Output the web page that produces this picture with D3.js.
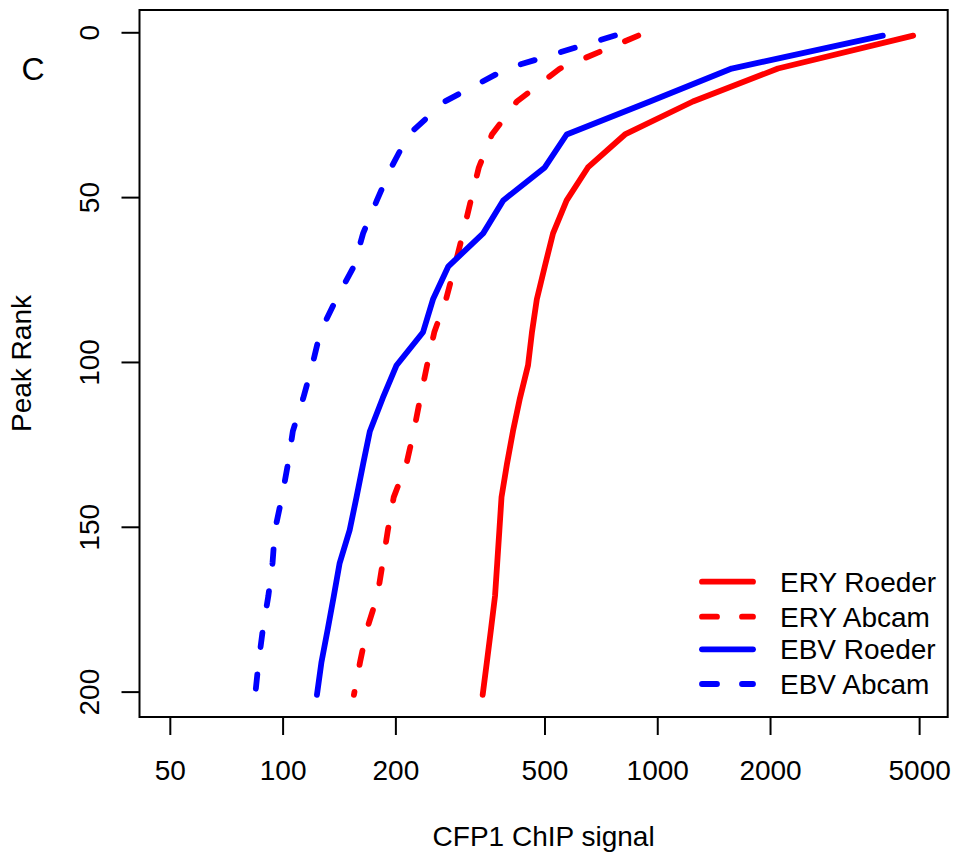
<!DOCTYPE html>
<html>
<head>
<meta charset="utf-8">
<script src="https://cdn.jsdelivr.net/npm/d3@7"></script>
<style>
  body { margin: 0; background: #fff; }
  text { font-family: "Liberation Sans", Arial, sans-serif; fill: #000; }
</style>
</head>
<body>
<div id="chart"></div>
<script>
// peak ranks (every 10th peak)
const ranks = [1, 11, 21, 31, 41, 51, 61, 71, 81, 91, 101, 111, 121, 131, 141, 151, 161, 171, 181, 191, 201];
// CFP1 ChIP signal at each rank
const eryRoeder = [4820, 2100, 1245, 820, 653, 573, 527, 501, 477, 463, 452, 430, 412, 397, 384, 379, 374, 369, 360, 351, 342];
const eryAbcam  = [890, 550, 422, 362, 334, 318, 303, 288, 273, 254, 243, 233, 224, 214, 198, 191, 185, 179, 168, 161, 155];
const ebvRoeder = [4000, 1580, 956, 573, 501, 388, 343, 277, 252, 237, 201.5, 185, 171, 164, 157.5, 151, 142, 137, 132, 127, 123.5];
const ebvAbcam  = [771, 397, 271, 217, 195, 178.5, 164, 155, 139, 126, 120, 113.5, 106.5, 103.3, 99.6, 95.4, 94, 91.6, 88.6, 86.3, 84.5];
const seriesNames = ["ERY Roeder", "ERY Abcam", "EBV Roeder", "EBV Abcam"];
const xTicks = [50, 100, 200, 500, 1000, 2000, 5000];
const yTicks = [0, 50, 100, 150, 200];

const colors = {"ERY Roeder": "#ff0000", "ERY Abcam": "#ff0000", "EBV Roeder": "#0000ff", "EBV Abcam": "#0000ff"};
const dashed = {"ERY Roeder": false, "ERY Abcam": true, "EBV Roeder": false, "EBV Abcam": true};
const seriesValues = [eryRoeder, eryAbcam, ebvRoeder, ebvAbcam];

const width = 953, height = 856;
const plotL = 139.5, plotR = 947.7, plotT = 10, plotB = 717;

const svg = d3.select("#chart").append("svg")
    .attr("width", width)
    .attr("height", height);

const x = d3.scaleLog().domain([41.5, 5960]).range([plotL, plotR]);
const y = d3.scaleLinear().domain([-6.76, 207.7]).range([plotT, plotB]);

// series lines
const line = d3.line()
    .x(d => x(d.v))
    .y(d => y(d.r));

seriesNames.forEach((name, i) => {
    const pts = ranks.map((r, j) => ({r: r, v: seriesValues[i][j]}));
    svg.append("path")
        .datum(pts)
        .attr("d", line)
        .attr("fill", "none")
        .attr("stroke", colors[name])
        .attr("stroke-width", 5.8)
        .attr("stroke-linecap", "round")
        .attr("stroke-linejoin", "round")
        .attr("stroke-dasharray", dashed[name] ? "14.5,27.5" : null);
});

// frame
svg.append("rect")
    .attr("x", plotL)
    .attr("y", plotT)
    .attr("width", plotR - plotL)
    .attr("height", plotB - plotT)
    .attr("fill", "none")
    .attr("stroke", "#000")
    .attr("stroke-width", 2);

// x axis
const xAxis = svg.append("g")
    .attr("transform", `translate(0,${plotB})`)
    .call(d3.axisBottom(x).tickValues(xTicks).tickFormat(d3.format("d")).tickSize(18));
xAxis.select(".domain").remove();
xAxis.selectAll("line").attr("stroke", "#000").attr("stroke-width", 2);
xAxis.selectAll("text")
    .attr("y", 63)
    .attr("dy", null)
    .style("font-size", "28px");
xAxis.attr("font-family", null);

// y axis (labels rotated like base R)
const yAxis = svg.append("g")
    .attr("transform", `translate(${plotL},0)`)
    .call(d3.axisLeft(y).tickValues(yTicks).tickSize(18));
yAxis.select(".domain").remove();
yAxis.selectAll("line").attr("stroke", "#000").attr("stroke-width", 2);
yAxis.selectAll("text")
    .attr("x", null)
    .attr("dy", null)
    .attr("text-anchor", "middle")
    .attr("transform", "translate(-40.5,0) rotate(-90)")
    .style("font-size", "28px");
yAxis.attr("font-family", null);

// axis titles
svg.append("text")
    .attr("x", (plotL + plotR) / 2)
    .attr("y", 846)
    .attr("text-anchor", "middle")
    .style("font-size", "28px")
    .text("CFP1 ChIP signal");

svg.append("text")
    .attr("transform", `translate(31,${(plotT + plotB) / 2}) rotate(-90)`)
    .attr("text-anchor", "middle")
    .style("font-size", "28px")
    .text("Peak Rank");

// panel letter
svg.append("text")
    .attr("x", 33)
    .attr("y", 80)
    .attr("text-anchor", "middle")
    .style("font-size", "32px")
    .text("C");

// legend (no box)
const legendY = [581.7, 616.7, 649.3, 684];
const legend = svg.append("g");
seriesNames.forEach((name, i) => {
    legend.append("line")
        .attr("x1", 702).attr("x2", 753)
        .attr("y1", legendY[i]).attr("y2", legendY[i])
        .attr("stroke", colors[name])
        .attr("stroke-width", 5.8)
        .attr("stroke-linecap", "round")
        .attr("stroke-dasharray", dashed[name] ? "15,25" : null);
    legend.append("text")
        .attr("x", 780)
        .attr("y", legendY[i] + 10)
        .style("font-size", "28px")
        .text(name);
});
</script>
</body>
</html>
